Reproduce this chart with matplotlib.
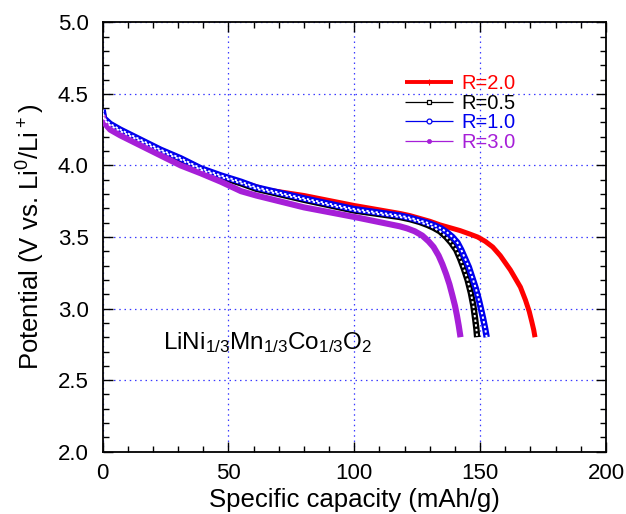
import matplotlib
matplotlib.use("Agg")
import matplotlib.pyplot as plt
from matplotlib.lines import Line2D
from matplotlib.ticker import MultipleLocator

plt.rcParams['font.family'] = ['Liberation Sans', 'DejaVu Sans']
plt.rcParams['mathtext.fontset'] = 'custom'
plt.rcParams['mathtext.rm'] = 'Liberation Sans'

# ---- data ----
labels = ["R=2.0", "R=0.5", "R=1.0", "R=3.0"]
colors = ["#ff0000", "#000000", "#0000ee", "#a61fd8"]

x_r20 = [0, 0.5, 3, 7, 15, 23, 31, 39, 47, 55, 65, 80, 100, 118, 122, 126, 130, 134, 138, 142, 146, 149,
         152, 155, 158, 160, 162, 164, 166, 168, 169.5, 170.5, 171.3, 171.8]
y_r20 = [4.38, 4.33, 4.29, 4.25, 4.18, 4.11, 4.05, 3.98, 3.93, 3.885, 3.83, 3.79, 3.72, 3.665, 3.65, 3.63,
         3.61, 3.585, 3.565, 3.545, 3.52, 3.50, 3.47, 3.43, 3.37, 3.32, 3.27, 3.21, 3.15, 3.06, 2.98, 2.91,
         2.85, 2.8]

x_r05 = [0, 0.5, 3, 7, 15, 23, 31, 39, 47, 55, 61, 80, 100, 118, 122, 126, 129, 131.5, 134, 136.5, 138.5,
         140.5, 142, 143.5, 145, 146.3, 147.3, 148, 148.5, 148.8]
y_r05 = [4.37, 4.32, 4.28, 4.24, 4.17, 4.10, 4.04, 3.97, 3.92, 3.875, 3.837, 3.76, 3.685, 3.64, 3.625, 3.605,
         3.585, 3.565, 3.54, 3.50, 3.46, 3.41, 3.35, 3.28, 3.20, 3.11, 3.02, 2.93, 2.86, 2.8]

x_r10 = [0, 0.5, 3, 7, 15, 23, 31, 39, 47, 55, 61, 80, 100, 118, 122, 126, 129, 132, 134.5, 137, 139, 141,
         142.5, 144, 145.5, 147, 148.3, 149.5, 150.3, 151.2, 152, 152.6]
y_r10 = [4.39, 4.33, 4.29, 4.25, 4.18, 4.11, 4.05, 3.98, 3.93, 3.886, 3.847, 3.77, 3.695, 3.65, 3.635, 3.615,
         3.60, 3.58, 3.56, 3.53, 3.50, 3.46, 3.41, 3.35, 3.29, 3.21, 3.14, 3.06, 3.0, 2.93, 2.86, 2.8]

x_r30 = [0, 0.5, 3, 7, 15, 23, 31, 39, 47, 55, 61, 80, 100, 118, 121, 124, 127, 129.5, 131.5, 133.5, 135,
         136.5, 137.8, 139, 140, 140.8, 141.5, 142.2]
y_r30 = [4.35, 4.30, 4.25, 4.21, 4.14, 4.07, 4.0, 3.945, 3.886, 3.82, 3.79, 3.707, 3.64, 3.575, 3.56, 3.54,
         3.51, 3.47, 3.43, 3.37, 3.31, 3.24, 3.17, 3.09, 3.02, 2.95, 2.88, 2.8]

xs = [x_r20, x_r05, x_r10, x_r30]
ys = [y_r20, y_r05, y_r10, y_r30]

x_ticks = [0, 50, 100, 150, 200]
y_ticks = [2.0, 2.5, 3.0, 3.5, 4.0, 4.5, 5.0]
compound = r'LiNi$\mathregular{_{1/3}}$Mn$\mathregular{_{1/3}}$Co$\mathregular{_{1/3}}$O$\mathregular{_2}$'

# ---- styles ----
band_w = [3.6, 4.6, 4.6, 4.4]
hollow = [False, True, True, False]
leg_styles = [
    dict(lw=2.8, marker='+', ms=4, mew=0.8, solid_capstyle='butt'),
    dict(lw=0.9, marker='s', ms=3.5, mew=0.9, mfc='white', solid_capstyle='butt'),
    dict(lw=0.9, marker='o', ms=3.5, mew=0.9, mfc='white', solid_capstyle='butt'),
    dict(lw=0.9, marker='o', ms=3.0, mew=0.5, solid_capstyle='butt'),
]

fig = plt.figure(figsize=(6.26, 5.14), dpi=100)
ax = fig.add_axes([0.164, 0.1212, 0.804, 0.8354])

for x, y, c, w, h in zip(xs, ys, colors, band_w, hollow):
    ax.plot(x, y, color=c, lw=w, solid_capstyle='butt', solid_joinstyle='round', zorder=3)
    if h:
        ax.plot(x, y, color='white', lw=1.4, linestyle=(0, (1.2, 1.2)), zorder=3.1)

ax.set_xlim(0, 200)
ax.set_ylim(2.0, 5.0)
ax.set_xticks(x_ticks)
ax.set_yticks(y_ticks)
ax.set_yticklabels([f"{v:.1f}" for v in y_ticks])
ax.xaxis.set_minor_locator(MultipleLocator(10))
ax.yaxis.set_minor_locator(MultipleLocator(0.1))
ax.tick_params(which='both', direction='in', top=True, right=True, labelsize=16, width=1.0)
ax.tick_params(axis='x', pad=8)
ax.tick_params(axis='y', pad=10)
ax.tick_params(which='major', length=7)
ax.tick_params(which='minor', length=4)
for s in ax.spines.values():
    s.set_linewidth(1.3)
ax.grid(True, which='major', color='#3a3aff', linestyle=(0, (1.2, 3)), linewidth=0.9)

ax.set_xlabel("Specific capacity (mAh/g)", fontsize=18.5, labelpad=3)
ax.set_ylabel(r'Potential (V vs. Li$\mathregular{^0}$/Li$\mathregular{^+}$)', fontsize=18.5, labelpad=8)

ax.text(24, 2.715, compound, fontsize=17.5, ha='left', va='baseline')

handles = [Line2D([0], [0], color=c, mec=c, **st) for c, st in zip(colors, leg_styles)]
leg = ax.legend(handles, labels, loc='upper left', bbox_to_anchor=(0.58, 0.903),
                frameon=False, fontsize=14.5, handlelength=2.4, handletextpad=0.4,
                labelspacing=0.03, borderpad=0, numpoints=1)
for t, c in zip(leg.get_texts(), colors):
    t.set_color(c)

fig.savefig("out.png", dpi=100)
